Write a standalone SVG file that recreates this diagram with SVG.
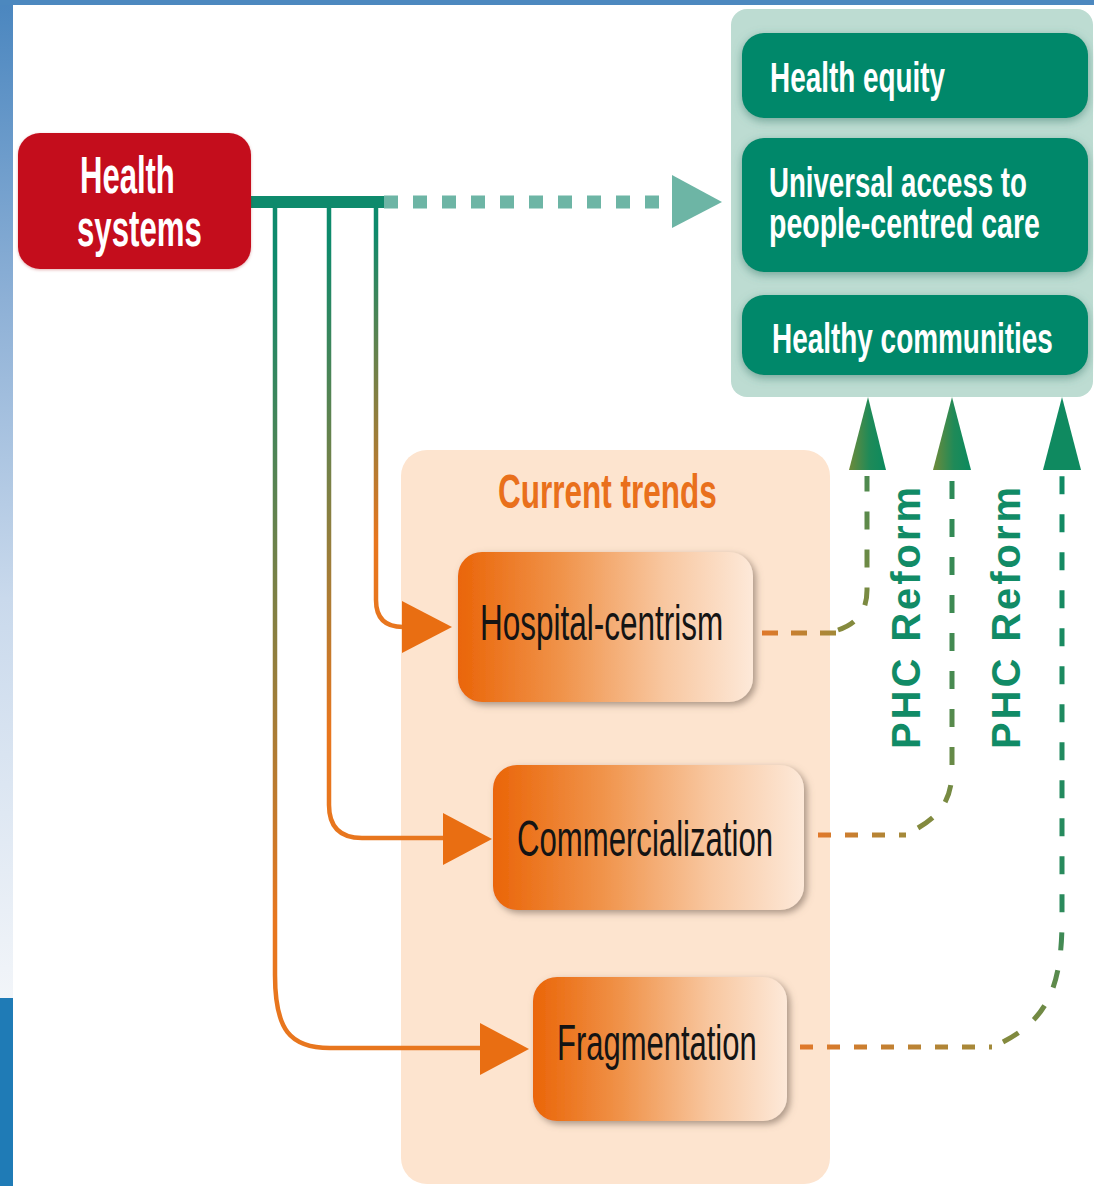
<svg xmlns="http://www.w3.org/2000/svg" width="1094" height="1186" viewBox="0 0 1094 1186">
<style>
.cond{font-family:"Liberation Sans","DejaVu Sans",sans-serif;}
.wb{fill:#ffffff;font-weight:bold;}
.trend{fill:#141414;font-size:50px;}
.phc{font-family:"Liberation Sans","DejaVu Sans",sans-serif;font-weight:bold;font-size:40px;fill:#118b66;}
.tealbox{fill:#00886b;}
.orangeTri{fill:#e96e12;}
</style>
<defs>
<linearGradient id="leftStrip" x1="0" y1="0" x2="0" y2="1">
<stop offset="0" stop-color="#4a86bf"/>
<stop offset="0.3" stop-color="#8db0d6"/>
<stop offset="0.6" stop-color="#c9d9ec"/>
<stop offset="1" stop-color="#f2f5f9"/>
</linearGradient>
<linearGradient id="trendFill" x1="0" y1="0" x2="1" y2="0">
<stop offset="0" stop-color="#ea6508"/>
<stop offset="0.35" stop-color="#f0934a"/>
<stop offset="0.7" stop-color="#f8c7a0"/>
<stop offset="1" stop-color="#fde9d9"/>
</linearGradient>
<linearGradient id="g1" gradientUnits="userSpaceOnUse" x1="0" y1="230" x2="0" y2="540">
<stop offset="0" stop-color="#0d8a6c"/>
<stop offset="1" stop-color="#e8761e"/>
</linearGradient>
<linearGradient id="g2" gradientUnits="userSpaceOnUse" x1="0" y1="240" x2="0" y2="730">
<stop offset="0" stop-color="#0d8a6c"/>
<stop offset="1" stop-color="#e8761e"/>
</linearGradient>
<linearGradient id="g3" gradientUnits="userSpaceOnUse" x1="0" y1="260" x2="0" y2="920">
<stop offset="0" stop-color="#0d8a6c"/>
<stop offset="1" stop-color="#e8761e"/>
</linearGradient>
<linearGradient id="triGrad" x1="0" y1="0" x2="1" y2="0">
<stop offset="0" stop-color="#6e8a3a"/>
<stop offset="0.55" stop-color="#1f8a58"/>
<stop offset="1" stop-color="#0b8a5e"/>
</linearGradient>
<linearGradient id="hd1" gradientUnits="userSpaceOnUse" x1="762" y1="0" x2="840" y2="0">
<stop offset="0" stop-color="#e0782a"/>
<stop offset="1" stop-color="#a08a3a"/>
</linearGradient>
<linearGradient id="hd2" gradientUnits="userSpaceOnUse" x1="818" y1="0" x2="910" y2="0">
<stop offset="0" stop-color="#e0782a"/>
<stop offset="1" stop-color="#a08a3a"/>
</linearGradient>
<linearGradient id="hd3" gradientUnits="userSpaceOnUse" x1="800" y1="0" x2="995" y2="0">
<stop offset="0" stop-color="#e0782a"/>
<stop offset="1" stop-color="#a08a3a"/>
</linearGradient>
<linearGradient id="vd1" gradientUnits="userSpaceOnUse" x1="0" y1="640" x2="0" y2="470">
<stop offset="0" stop-color="#8a8a3c"/>
<stop offset="1" stop-color="#4a8a50"/>
</linearGradient>
<linearGradient id="vd2" gradientUnits="userSpaceOnUse" x1="0" y1="840" x2="0" y2="470">
<stop offset="0" stop-color="#8a8a3c"/>
<stop offset="0.4" stop-color="#4a8a50"/>
<stop offset="1" stop-color="#2a8a58"/>
</linearGradient>
<linearGradient id="vd3" gradientUnits="userSpaceOnUse" x1="0" y1="1050" x2="0" y2="470">
<stop offset="0" stop-color="#8a8a3c"/>
<stop offset="0.25" stop-color="#2a8a5c"/>
<stop offset="1" stop-color="#0f8a64"/>
</linearGradient>
<filter id="tealShadow" x="-10%" y="-20%" width="120%" height="150%">
<feDropShadow dx="0" dy="3" stdDeviation="5" flood-color="#3f8272" flood-opacity="0.6"/>
</filter>
<filter id="trendShadow" x="-10%" y="-15%" width="125%" height="135%">
<feDropShadow dx="3" dy="3" stdDeviation="3.5" flood-color="#7d6b5d" flood-opacity="0.65"/>
</filter>
<filter id="softShadow" x="-10%" y="-10%" width="120%" height="125%">
<feDropShadow dx="0" dy="1" stdDeviation="1.5" flood-color="#a00010" flood-opacity="0.3"/>
</filter>
</defs>

<rect x="0" y="0" width="1094" height="1186" fill="#ffffff"/>
<rect x="0" y="0" width="13" height="998" fill="url(#leftStrip)"/>
<rect x="0" y="998" width="13" height="188" fill="#1f7bb6"/>
<rect x="0" y="0" width="1094" height="5" fill="#4c88bf"/>

<g id="current-trends-panel">
<rect x="401" y="450" width="429" height="734" rx="26" fill="#fde4cf"/>
<text class="cond" transform="translate(498,508) scale(0.657,1)" font-size="48" font-weight="bold" fill="#e9701c" textLength="333" lengthAdjust="spacingAndGlyphs">Current trends</text>
</g>

<g id="goals-panel">
<rect x="731" y="9" width="362" height="388" rx="16" fill="#bddcd2"/>
</g>

<g id="connectors">
<rect x="250" y="196" width="136" height="12" fill="#0e8a6c"/>
<line x1="384" y1="202" x2="660" y2="202" stroke="#6db5a5" stroke-width="13" stroke-dasharray="14 15"/>
<polygon points="672,175 722,202 672,228" fill="#6db5a5"/>

<path d="M376,202 V600 Q376,627 403,627 H410" fill="none" stroke="url(#g1)" stroke-width="4.5"/>
<polygon class="orangeTri" points="402,601 452,627 402,653"/>
<path d="M329,202 V805 Q329,838 362,838 H446" fill="none" stroke="url(#g2)" stroke-width="4.5"/>
<polygon class="orangeTri" points="443,813 492,839 443,865"/>
<path d="M275,202 V975 C275,1030 290,1048 330,1048 H482" fill="none" stroke="url(#g3)" stroke-width="4.5"/>
<polygon class="orangeTri" points="480,1023 529,1049 480,1075"/>

<path d="M762,633 H836" fill="none" stroke="url(#hd1)" stroke-width="5" stroke-dasharray="16 13"/>
<path d="M838,630 C856,624 867,612 867,590 V476" fill="none" stroke="url(#vd1)" stroke-width="5" stroke-dasharray="18 20"/>
<polygon points="849,470 868,397 886,470" fill="url(#triGrad)"/>

<path d="M818,835 H906" fill="none" stroke="url(#hd2)" stroke-width="5" stroke-dasharray="13 14"/>
<path d="M918,828 C940,815 952,800 952,770 V476" fill="none" stroke="url(#vd2)" stroke-width="5" stroke-dasharray="18 20"/>
<polygon points="933,470 952,397 971,470" fill="url(#triGrad)"/>

<path d="M800,1047 H992" fill="none" stroke="url(#hd3)" stroke-width="5" stroke-dasharray="13 14"/>
<path d="M1003,1042 C1045,1020 1062,990 1062,920 V476" fill="none" stroke="url(#vd3)" stroke-width="5" stroke-dasharray="18 20"/>
<polygon points="1043,470 1062,397 1081,470" fill="#0f8a60"/>

<text class="phc" transform="translate(920,618) rotate(-90)" text-anchor="middle" textLength="262" lengthAdjust="spacing">PHC Reform</text>
<text class="phc" transform="translate(1020,618) rotate(-90)" text-anchor="middle" textLength="262" lengthAdjust="spacing">PHC Reform</text>
</g>

<g id="health-systems">
<rect x="18" y="133" width="233" height="136" rx="22" fill="#c40d1e" filter="url(#softShadow)"/>
<text class="cond wb" transform="translate(80,193) scale(0.6,1)" font-size="52" textLength="158" lengthAdjust="spacingAndGlyphs">Health</text>
<text class="cond wb" transform="translate(77,246) scale(0.6,1)" font-size="52" textLength="208" lengthAdjust="spacingAndGlyphs">systems</text>
</g>

<g id="health-equity">
<rect class="tealbox" x="742" y="33" width="346" height="85" rx="22" filter="url(#tealShadow)"/>
<text class="cond wb" transform="translate(770,92) scale(0.663,1)" font-size="42" textLength="264" lengthAdjust="spacingAndGlyphs">Health equity</text>
</g>

<g id="universal-access">
<rect class="tealbox" x="742" y="138" width="346" height="134" rx="22" filter="url(#tealShadow)"/>
<text class="cond wb" transform="translate(769,197) scale(0.658,1)" font-size="42" textLength="392" lengthAdjust="spacingAndGlyphs">Universal access to</text>
<text class="cond wb" transform="translate(769,238) scale(0.679,1)" font-size="42" textLength="399" lengthAdjust="spacingAndGlyphs">people-centred care</text>
</g>

<g id="healthy-communities">
<rect class="tealbox" x="742" y="295" width="346" height="80" rx="22" filter="url(#tealShadow)"/>
<text class="cond wb" transform="translate(772,353) scale(0.65,1)" font-size="43" textLength="432" lengthAdjust="spacingAndGlyphs">Healthy communities</text>
</g>

<g id="hospital-centrism">
<rect x="458" y="552" width="295" height="150" rx="24" fill="url(#trendFill)" filter="url(#trendShadow)"/>
<text class="cond trend" transform="translate(480,640) scale(0.63,1)" textLength="386" lengthAdjust="spacingAndGlyphs">Hospital-centrism</text>
</g>

<g id="commercialization">
<rect x="493" y="765" width="311" height="145" rx="24" fill="url(#trendFill)" filter="url(#trendShadow)"/>
<text class="cond trend" transform="translate(517,856) scale(0.623,1)" textLength="411" lengthAdjust="spacingAndGlyphs">Commercialization</text>
</g>

<g id="fragmentation">
<rect x="533" y="977" width="254" height="144" rx="24" fill="url(#trendFill)" filter="url(#trendShadow)"/>
<text class="cond trend" transform="translate(557,1060) scale(0.62,1)" textLength="322" lengthAdjust="spacingAndGlyphs">Fragmentation</text>
</g>
</svg>
